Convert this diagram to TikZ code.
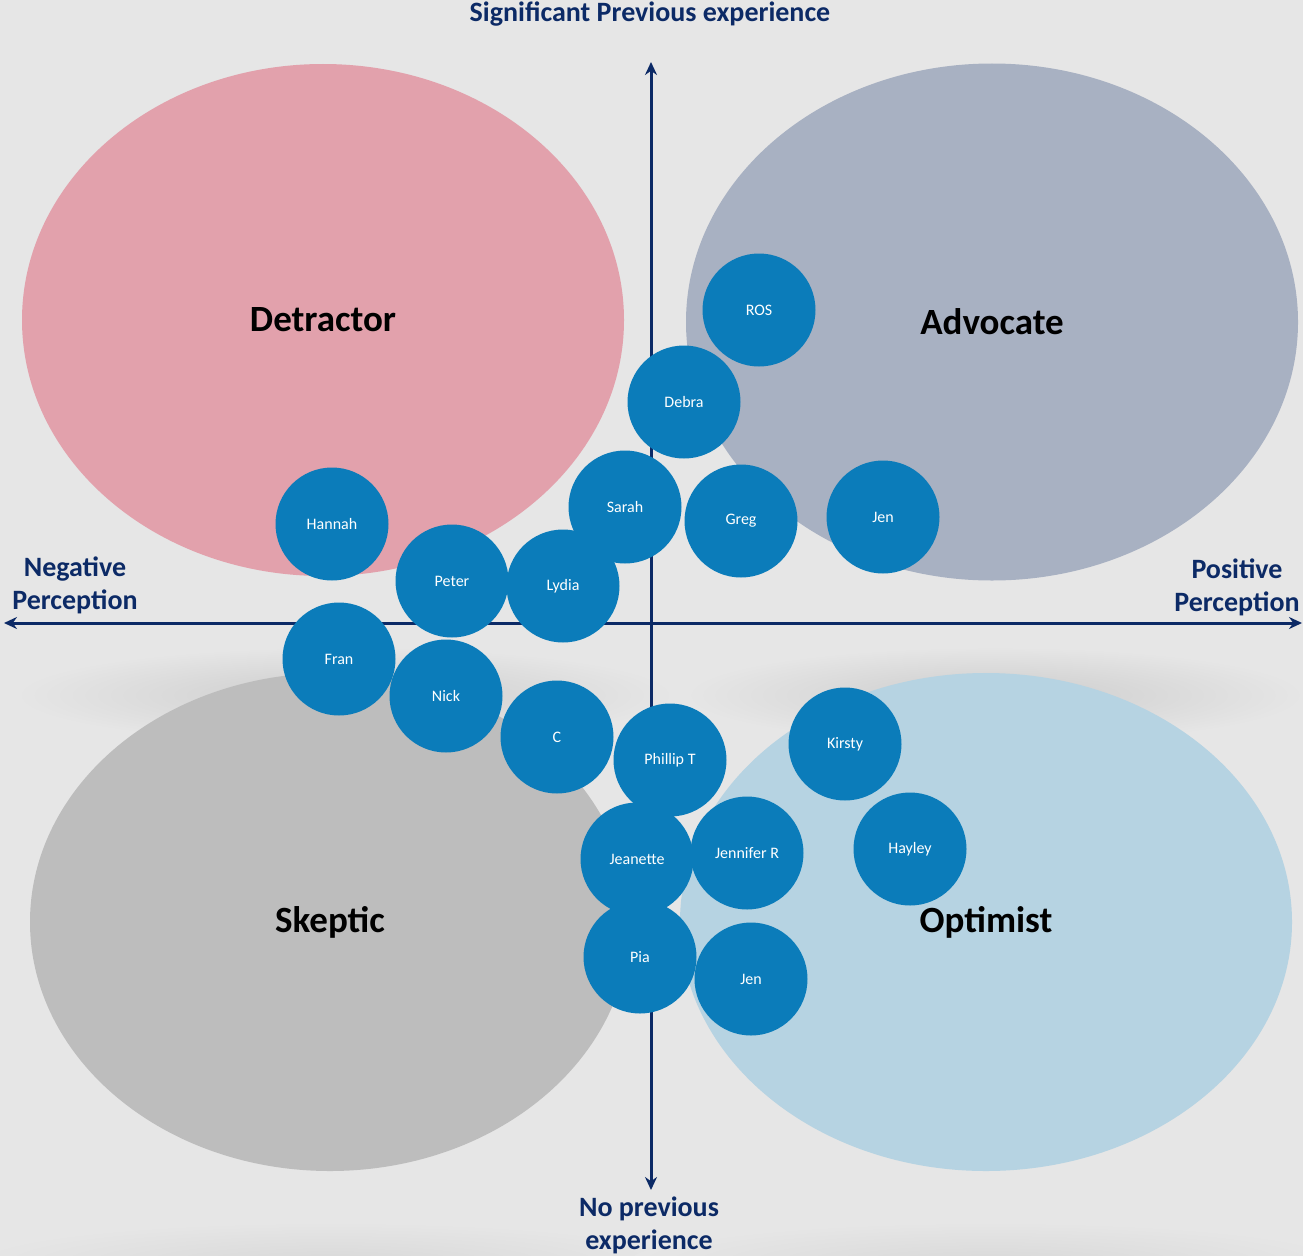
\documentclass[tikz,border=0pt]{standalone}
\usepackage{fontspec}
\setmainfont{Carlito}
\usetikzlibrary{arrows.meta,shapes.geometric}

\definecolor{bggrey}{HTML}{E6E6E6}
\definecolor{detractorpink}{HTML}{E2A1AC}
\definecolor{advocategrey}{HTML}{A8B1C2}
\definecolor{skepticgrey}{HTML}{BDBDBD}
\definecolor{optimistblue}{HTML}{B6D3E2}
\definecolor{personblue}{HTML}{0B7CBA}
\definecolor{axisnavy}{HTML}{0C2A66}

\begin{document}
\begin{tikzpicture}[x=1pt,y=-1pt,
    quadrant/.style={ellipse,inner sep=0pt,font=\fontsize{37}{42}\selectfont\bfseries},
    person/.style={circle,fill=personblue,minimum size=113pt,inner sep=0pt,text=white,font=\fontsize{16}{18}\selectfont},
    axislabel/.style={text=axisnavy,align=center,font=\fontsize{28}{33}\selectfont\bfseries},
    >={Stealth[length=13pt,width=12pt]}]
    \fill[bggrey] (0,0) rectangle (1303,1255);
    \useasboundingbox (0,0) rectangle (1303,1255);

    % Soft shadows under the lower ellipses
    \shade[inner color=black!20,outer color=bggrey] (345,695) ellipse [x radius=330pt,y radius=48pt];
    \shade[inner color=black!20,outer color=bggrey] (995,695) ellipse [x radius=310pt,y radius=48pt];
    \shade[inner color=black!15,outer color=bggrey] (330,1262) ellipse [x radius=360pt,y radius=40pt];
    \shade[inner color=black!15,outer color=bggrey] (990,1262) ellipse [x radius=360pt,y radius=40pt];

    % The four quadrants
    \node[quadrant,fill=detractorpink,minimum width=602pt,minimum height=512pt] (detractor) at (323,320) {Detractor};
    \node[quadrant,fill=advocategrey,minimum width=612pt,minimum height=517pt] (advocate) at (992,322) {Advocate};
    \node[quadrant,fill=skepticgrey,minimum width=600pt,minimum height=498pt] (skeptic) at (330,922) {Skeptic};
    \node[quadrant,fill=optimistblue,minimum width=612pt,minimum height=498pt] (optimist) at (986,922) {Optimist};

    % Axes
    \coordinate (negend) at (4,623);
    \coordinate (posend) at (1302,623);
    \coordinate (topend) at (651,62);
    \coordinate (botend) at (651,1190);
    \draw[<->,axisnavy,line width=3pt] (negend) -- (posend);
    \draw[<->,axisnavy,line width=3pt] (botend) -- (topend);

    \node[axislabel] (sigexp) at (650,14) {Significant Previous experience};
    \node[axislabel] (noexp) at (649,1225) {No previous\\experience};
    \node[axislabel] (negperc) at (75,585) {Negative\\Perception};
    \node[axislabel] (posperc) at (1237,587) {Positive\\Perception};

    % People
    \node[person] (ros) at (759,310) {ROS};
    \node[person] (debra) at (684,402) {Debra};
    \node[person] (sarah) at (625,507) {Sarah};
    \node[person] (greg) at (741,521) {Greg};
    \node[person] (jena) at (883,517) {Jen};
    \node[person] (hannah) at (332,524) {Hannah};
    \node[person] (peter) at (452,581) {Peter};
    \node[person] (lydia) at (563,586) {Lydia};
    \node[person] (fran) at (339,659) {Fran};
    \node[person] (nick) at (446,696) {Nick};
    \node[person] (c) at (557,737) {C};
    \node[person] (phillip) at (670,760) {Phillip T};
    \node[person] (kirsty) at (845,744) {Kirsty};
    \node[person] (hayley) at (910,849) {Hayley};
    \node[person] (jenniferr) at (747,853) {Jennifer R};
    \node[person] (jeanette) at (637,859) {Jeanette};
    \node[person] (pia) at (640,957) {Pia};
    \node[person] (jenb) at (751,979) {Jen};
\end{tikzpicture}
\end{document}
